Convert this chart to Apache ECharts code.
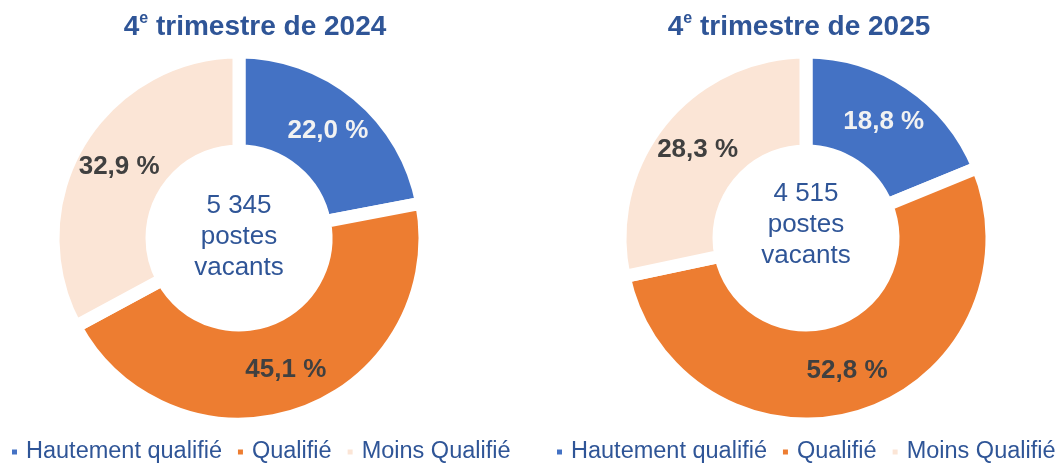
<!DOCTYPE html>
<html>
<head>
<meta charset="utf-8">
<script src="https://cdn.jsdelivr.net/npm/echarts@6/dist/echarts.min.js"></script>
<style>
  html, body { margin: 0; padding: 0; background: #fff; }
  #chart { width: 1057px; height: 466px; }
</style>
</head>
<body>
<div id="chart"></div>
<script>
var categories = ['Hautement qualifié', 'Qualifié', 'Moins Qualifié'];
var years = ['2024', '2025'];
var shares2024 = [22.0, 45.1, 32.9];
var shares2025 = [18.8, 52.8, 28.3];
var totals = ['5 345', '4 515'];

var colors = ['#4472C4', '#ED7D31', '#FBE5D6'];
var labelColors = ['#F2F2F2', '#404040', '#404040'];
var navy = '#2F5597';
var font = 'Liberation Sans, Arial, sans-serif';
var centersX = [239, 806];

function fmt(v) {
  return v.toFixed(1).replace('.', ',') + ' %';
}

function buildData(values) {
  return values.map(function(v, i) {
    return {
      name: categories[i],
      value: v,
      itemStyle: { color: colors[i] },
      label: { color: labelColors[i] }
    };
  });
}

function pieSeries(values, cx) {
  return {
    type: 'pie',
    center: [cx, 238],
    radius: [87, 186],
    startAngle: 90,
    clockwise: true,
    silent: true,
    animation: false,
    itemStyle: { borderColor: '#fff', borderWidth: 13 },
    label: {
      show: true,
      position: 'inside',
      fontFamily: font,
      fontSize: 26,
      fontWeight: 'bold',
      formatter: function(p) { return fmt(p.value); }
    },
    labelLine: { show: false },
    data: buildData(values)
  };
}

function legendAt(left) {
  return {
    data: categories,
    left: left,
    top: 440,
    width: 540,
    padding: 0,
    icon: 'rect',
    itemWidth: 7,
    itemHeight: 7,
    itemGap: 14,
    selectedMode: false,
    textStyle: { color: navy, fontSize: 23.5, fontFamily: font, padding: [0, 0, 0, 3] }
  };
}

var titleX = [255, 799];
var centerTextY = [237, 225];
var graphics = [];
years.forEach(function(y, i) {
  graphics.push({
    type: 'text',
    x: titleX[i],
    y: 27,
    style: {
      text: '{a|4}{s|e}{a| trimestre de ' + y + '}',
      align: 'center', textAlign: 'center',
      verticalAlign: 'middle', textVerticalAlign: 'middle',
      fill: navy,
      rich: {
        a: { fontFamily: font, fontSize: 28, fontWeight: 'bold', fill: navy, color: navy, lineHeight: 32 },
        s: { fontFamily: font, fontSize: 16, fontWeight: 'bold', fill: navy, color: navy, lineHeight: 20, verticalAlign: 'top' }
      }
    }
  });
  graphics.push({
    type: 'text',
    x: centersX[i],
    y: centerTextY[i],
    style: {
      text: totals[i] + '\npostes\nvacants',
      align: 'center', textAlign: 'center',
      verticalAlign: 'middle', textVerticalAlign: 'middle',
      fill: navy,
      fontFamily: font,
      fontSize: 26,
      lineHeight: 31
    }
  });
});

var chart = echarts.init(document.getElementById('chart'), null, { renderer: 'canvas' });
chart.setOption({
  backgroundColor: '#fff',
  animation: false,
  legend: [legendAt(10), legendAt(555)],
  series: [pieSeries(shares2024, centersX[0]), pieSeries(shares2025, centersX[1])],
  graphic: graphics
});
</script>
</body>
</html>
